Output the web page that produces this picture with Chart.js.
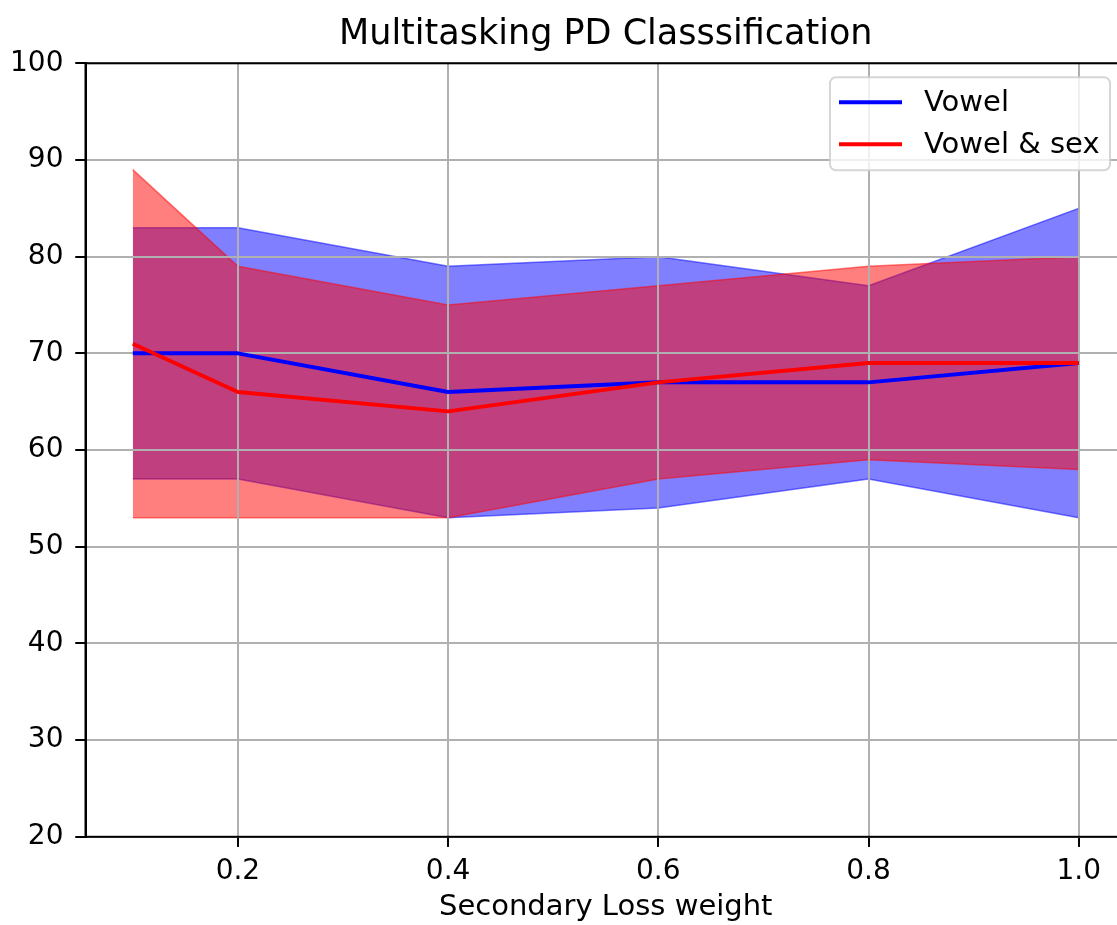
<!DOCTYPE html>
<html>
<head>
<meta charset="utf-8">
<script src="https://cdn.jsdelivr.net/npm/chart.js@4/dist/chart.umd.min.js"></script>
<style>
html, body { margin: 0; padding: 0; overflow: hidden; background: #fff; width: 1117px; height: 925px; }
#wrap { position: absolute; left: 0; top: 0; width: 1130px; height: 925px; }
</style>
</head>
<body>
<div id="wrap"><canvas id="c" width="1130" height="925"></canvas></div>
<script>
// ---- data ----
const TITLE = 'Multitasking PD Classsification';
const X_LABEL = 'Secondary Loss weight';
const SERIES_NAMES = ['Vowel', 'Vowel & sex'];
const LOSS_WEIGHTS = [0.1, 0.2, 0.4, 0.6, 0.8, 1.0];
const VOWEL_MEAN  = [70, 70, 66, 67, 67, 69];
const VOWEL_UPPER = [83, 83, 79, 80, 77, 85];
const VOWEL_LOWER = [57, 57, 53, 54, 57, 53];
const VOWEL_SEX_MEAN  = [71, 66, 64, 67, 69, 69];
const VOWEL_SEX_UPPER = [89, 79, 75, 77, 79, 80];
const VOWEL_SEX_LOWER = [53, 53, 53, 57, 59, 58];
const X_TICKS = [0.2, 0.4, 0.6, 0.8, 1.0];
const Y_TICKS = [20, 30, 40, 50, 60, 70, 80, 90, 100];

// ---- styling ----
const FONT = "'DejaVu Sans', sans-serif";
const BLUE = 'rgb(0,0,255)', RED = 'rgb(255,0,0)';
const BLUE_A = 'rgba(0,0,255,0.5)', RED_A = 'rgba(255,0,0,0.5)';
const pts = arr => LOSS_WEIGHTS.map((x, i) => ({ x: x, y: arr[i] }));

const gridOpts = { color: '#b0b0b0', lineWidth: 2, tickColor: '#000', tickLength: 10, tickWidth: 2 };

const gridOverFill = {
  id: 'gridOverFill',
  beforeDatasetDraw(chart, args) {
    if (args.index === 1) {
      chart.scales.x.drawGrid(chart.chartArea);
      chart.scales.y.drawGrid(chart.chartArea);
    }
  }
};

const spines = {
  id: 'spines',
  afterDraw(chart) {
    const { ctx, chartArea: a } = chart;
    ctx.save();
    ctx.strokeStyle = '#000';
    ctx.lineWidth = 2;
    ctx.strokeRect(a.left, a.top, a.right - a.left, a.bottom - a.top);
    ctx.restore();
  }
};

const boxLegend = {
  id: 'boxLegend',
  afterDraw(chart) {
    const { ctx, chartArea: a } = chart;
    const items = SERIES_NAMES.map(n => chart.data.datasets.find(d => d.label === n));
    const w = 280, h = 93;
    const x0 = a.right - 16 - w, y0 = a.top + 14;
    ctx.save();
    ctx.beginPath();
    ctx.roundRect(x0, y0, w, h, 6);
    ctx.fillStyle = 'rgba(255,255,255,0.8)';
    ctx.fill();
    ctx.strokeStyle = 'rgba(204,204,204,0.8)';
    ctx.lineWidth = 2;
    ctx.stroke();
    ctx.font = '29px ' + FONT;
    ctx.textBaseline = 'middle';
    ctx.textAlign = 'left';
    items.forEach((d, i) => {
      const y = y0 + 25 + i * 42;
      ctx.beginPath();
      ctx.moveTo(x0 + 9, y);
      ctx.lineTo(x0 + 72, y);
      ctx.strokeStyle = d.borderColor;
      ctx.lineWidth = 4;
      ctx.stroke();
      ctx.fillStyle = '#000';
      ctx.fillText(d.label, x0 + 94, y + 1);
    });
    ctx.restore();
  }
};

new Chart(document.getElementById('c'), {
  type: 'line',
  data: {
    datasets: [
      { label: SERIES_NAMES[1], data: pts(VOWEL_SEX_MEAN), borderColor: RED, borderWidth: 4, pointRadius: 0, fill: false },
      { label: SERIES_NAMES[0], data: pts(VOWEL_MEAN), borderColor: BLUE, borderWidth: 4, pointRadius: 0, fill: false },
      { label: 'sex_upper', data: pts(VOWEL_SEX_UPPER), borderColor: RED_A, backgroundColor: RED_A, borderWidth: 1.5, pointRadius: 0, fill: '+1' },
      { label: 'sex_lower', data: pts(VOWEL_SEX_LOWER), borderColor: RED_A, borderWidth: 1.5, pointRadius: 0, fill: false },
      { label: 'vowel_upper', data: pts(VOWEL_UPPER), borderColor: BLUE_A, backgroundColor: BLUE_A, borderWidth: 1.5, pointRadius: 0, fill: '+1' },
      { label: 'vowel_lower', data: pts(VOWEL_LOWER), borderColor: BLUE_A, borderWidth: 1.5, pointRadius: 0, fill: false }
    ]
  },
  options: {
    responsive: false,
    animation: false,
    devicePixelRatio: 1,
    layout: { padding: { left: 0, right: 4, top: 0, bottom: 0 } },
    elements: { line: { tension: 0, borderJoinStyle: 'round', borderCapStyle: 'butt' } },
    plugins: {
      legend: { display: false },
      tooltip: { enabled: false },
      title: {
        display: true, text: TITLE, fullSize: false, color: '#000',
        font: { family: FONT, size: 35, weight: 'normal', lineHeight: 1.2 },
        padding: { top: 14, bottom: 7.3 }
      }
    },
    scales: {
      x: {
        type: 'linear', min: 0.055, max: 1.045,
        afterBuildTicks: s => { s.ticks = X_TICKS.map(v => ({ value: v })); },
        afterFit: s => { s.height = 925 - 836.8; },
        ticks: { callback: v => Number(v).toFixed(1), color: '#000', font: { family: FONT, size: 28 }, padding: 8, maxRotation: 0, autoSkip: false },
        grid: gridOpts,
        border: { color: '#000', width: 2 },
        title: { display: true, text: X_LABEL, color: '#000', font: { family: FONT, size: 29 }, padding: { top: 0, bottom: 0 } }
      },
      y: {
        min: 20, max: 100,
        afterBuildTicks: s => { s.ticks = Y_TICKS.map(v => ({ value: v })); },
        afterFit: s => { s.width = 85.5; },
        ticks: { color: '#000', font: { family: FONT, size: 28 }, padding: 12 },
        grid: gridOpts,
        border: { color: '#000', width: 2 }
      }
    }
  },
  plugins: [gridOverFill, spines, boxLegend]
});
</script>
</body>
</html>
